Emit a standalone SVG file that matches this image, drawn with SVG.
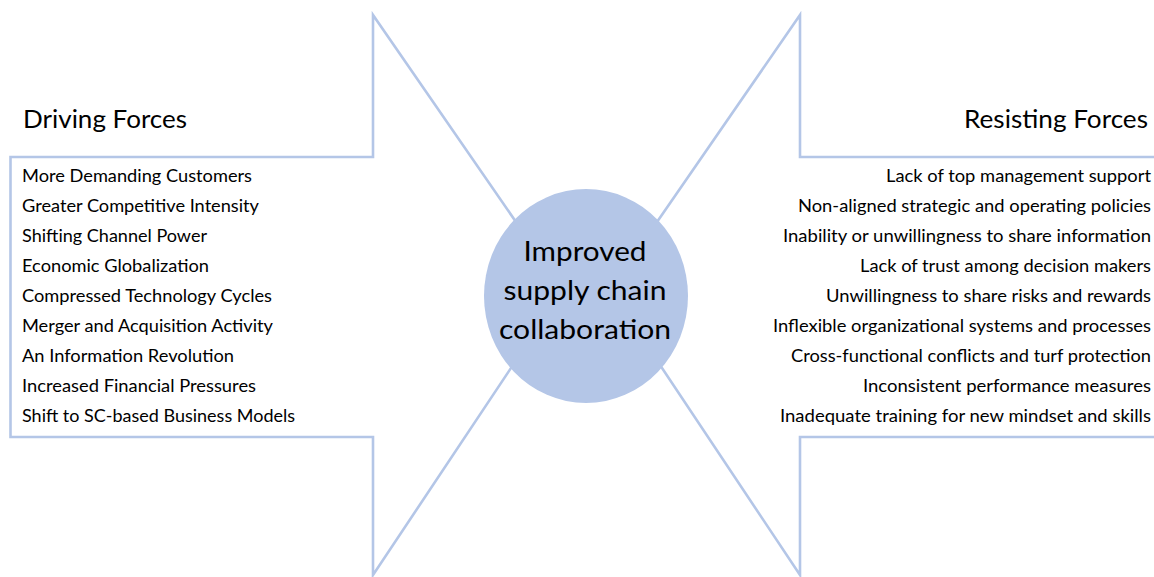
<svg xmlns="http://www.w3.org/2000/svg" width="1154" height="577" viewBox="0 0 1154 577">
  <style>
    .arrow { fill: #ffffff; stroke: #B4C6E7; stroke-width: 2.6; stroke-linejoin: miter; }
    .hub { fill: #B4C6E7; stroke: none; }
    text { font-family: Lato, "Open Sans", "Liberation Sans", sans-serif; fill: #000000; }
    .title { font-size: 25px; }
    .item { font-size: 16.5px; }
    .hubtext { font-size: 27px; text-anchor: middle; }
    .right { text-anchor: end; }
  </style>

  <!-- Force arrows pointing toward the centre -->
  <g id="connectors">
    <polygon id="driving-arrow" class="arrow" points="10.5,157 373,157 373,15 563,290 373,575 373,437 10.5,437"/>
    <polygon id="resisting-arrow" class="arrow" points="1160,157 800,157 800,15 610,290 800,575 800,437 1160,437"/>
  </g>

  <!-- Central goal -->
  <g id="goal">
    <ellipse class="hub" cx="586" cy="296" rx="102" ry="107"/>
    <text class="hubtext" x="585" y="260.5" textLength="123" lengthAdjust="spacingAndGlyphs">Improved</text>
    <text class="hubtext" x="585" y="299.5" textLength="163" lengthAdjust="spacingAndGlyphs">supply chain</text>
    <text class="hubtext" x="585" y="339" textLength="172" lengthAdjust="spacingAndGlyphs">collaboration</text>
  </g>

  <!-- Driving forces -->
  <g id="driving-forces">
    <text class="title" x="23" y="128" textLength="164" lengthAdjust="spacingAndGlyphs">Driving Forces</text>
    <text class="item" x="22" y="181.5" textLength="230" lengthAdjust="spacingAndGlyphs">More Demanding Customers</text>
    <text class="item" x="22" y="211.6" textLength="237" lengthAdjust="spacingAndGlyphs">Greater Competitive Intensity</text>
    <text class="item" x="22" y="241.7" textLength="185" lengthAdjust="spacingAndGlyphs">Shifting Channel Power</text>
    <text class="item" x="22" y="271.8" textLength="187" lengthAdjust="spacingAndGlyphs">Economic Globalization</text>
    <text class="item" x="22" y="301.9" textLength="250" lengthAdjust="spacingAndGlyphs">Compressed Technology Cycles</text>
    <text class="item" x="22" y="332" textLength="251" lengthAdjust="spacingAndGlyphs">Merger and Acquisition Activity</text>
    <text class="item" x="22" y="362.1" textLength="212" lengthAdjust="spacingAndGlyphs">An Information Revolution</text>
    <text class="item" x="22" y="392.2" textLength="234" lengthAdjust="spacingAndGlyphs">Increased Financial Pressures</text>
    <text class="item" x="22" y="422.3" textLength="273" lengthAdjust="spacingAndGlyphs">Shift to SC-based Business Models</text>
  </g>

  <!-- Resisting forces -->
  <g id="resisting-forces">
    <text class="title right" x="1148" y="128" textLength="184" lengthAdjust="spacingAndGlyphs">Resisting Forces</text>
    <text class="item right" x="1151" y="181.5" textLength="265" lengthAdjust="spacingAndGlyphs">Lack of top management support</text>
    <text class="item right" x="1151" y="211.6" textLength="353" lengthAdjust="spacingAndGlyphs">Non-aligned strategic and operating policies</text>
    <text class="item right" x="1151" y="241.7" textLength="368" lengthAdjust="spacingAndGlyphs">Inability or unwillingness to share information</text>
    <text class="item right" x="1151" y="271.8" textLength="291" lengthAdjust="spacingAndGlyphs">Lack of trust among decision makers</text>
    <text class="item right" x="1151" y="301.9" textLength="325" lengthAdjust="spacingAndGlyphs">Unwillingness to share risks and rewards</text>
    <text class="item right" x="1151" y="332" textLength="378" lengthAdjust="spacingAndGlyphs">Inflexible organizational systems and processes</text>
    <text class="item right" x="1151" y="362.1" textLength="360" lengthAdjust="spacingAndGlyphs">Cross-functional conflicts and turf protection</text>
    <text class="item right" x="1151" y="392.2" textLength="288" lengthAdjust="spacingAndGlyphs">Inconsistent performance measures</text>
    <text class="item right" x="1151" y="422.3" textLength="371" lengthAdjust="spacingAndGlyphs">Inadequate training for new mindset and skills</text>
  </g>
</svg>
